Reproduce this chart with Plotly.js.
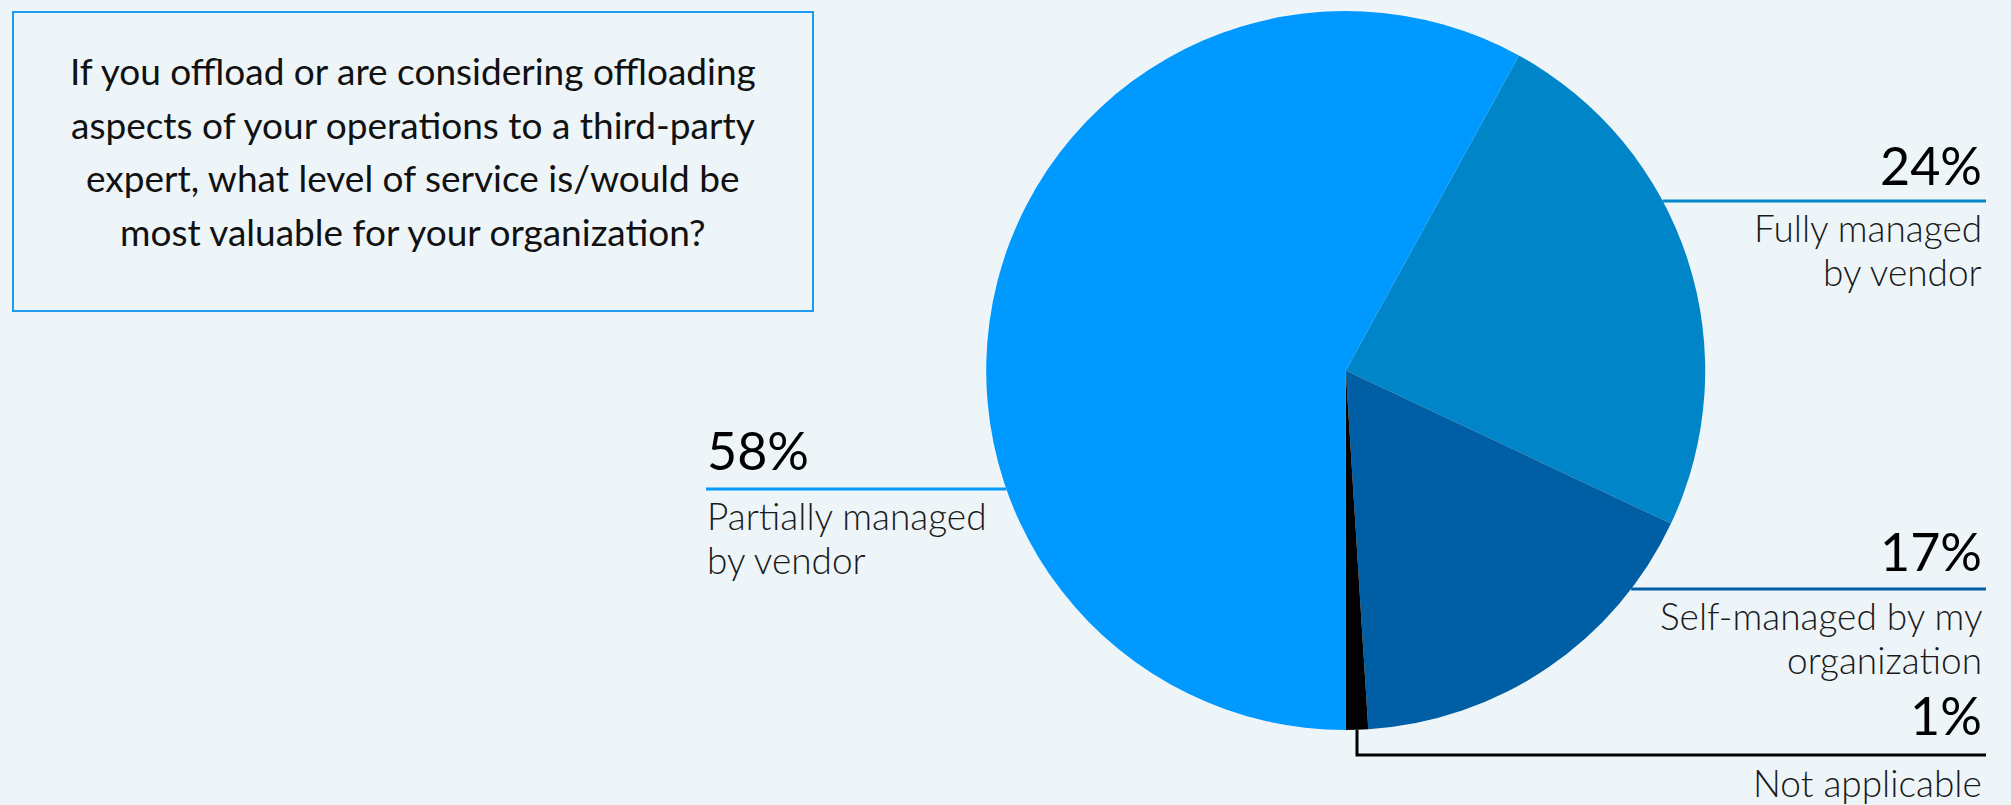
<!DOCTYPE html>
<html>
<head>
<meta charset="utf-8">
<script src="https://cdn.plot.ly/plotly-3.0.1.min.js"></script>
<style>
  html, body { margin: 0; padding: 0; background: #EEF5F9; }
  #chart { width: 2011px; height: 805px; }
</style>
</head>
<body>
<div id="chart"></div>
<script>
// ---- Data ----
const categories = ["Fully managed by vendor", "Self-managed by my organization", "Not applicable", "Partially managed by vendor"];
const values = [24, 17, 1, 58];
const percentLabels = ["24%", "17%", "1%", "58%"];
const descLabels = [["Fully managed", "by vendor"], ["Self-managed by my", "organization"], ["Not applicable"], ["Partially managed", "by vendor"]];
const colors = ["#0085C9", "#005EA4", "#000000", "#0099FF"];
const questionLines = [
  "If you offload or are considering offloading",
  "aspects of your operations to a third-party",
  "expert, what level of service is/would be",
  "most valuable for your organization?"
];

// ---- Layout geometry ----
const W = 2011, H = 805;
const pieTop = 11, pieBottom = 730;
const pieCx = 1345.7;
const R = (pieBottom - pieTop) / 2;
const pieCy = pieTop + R;
const domW = 0.4;
const px = x => x / W;
const py = y => 1 - y / H;

const total = values.reduce((a, b) => a + b, 0);
const startAngle = 180 - 360 * (values[0] + values[1] + values[2]) / total;

const trace = {
  type: 'pie',
  labels: categories,
  values: values,
  sort: false,
  direction: 'clockwise',
  rotation: startAngle,
  marker: { colors: colors, line: { width: 0 } },
  textinfo: 'none',
  hoverinfo: 'none',
  showlegend: false,
  domain: {
    x: [pieCx / W - domW / 2, pieCx / W + domW / 2],
    y: [1 - pieBottom / H, 1 - pieTop / H]
  }
};

const fontFam = 'Lato, "Open Sans", sans-serif';
const annotations = [];
const shapes = [];

// Question box
shapes.push({
  type: 'rect', xref: 'paper', yref: 'paper',
  x0: px(13), x1: px(813), y0: py(12), y1: py(311),
  line: { color: '#1E9BF0', width: 2 }, fillcolor: 'rgba(0,0,0,0)'
});
const qBaselines = [85, 138.5, 192, 245.5];
const qSize = 37;
questionLines.forEach((t, i) => {
  annotations.push({
    xref: 'paper', yref: 'paper', x: px(413), y: py(qBaselines[i] - 0.387 * qSize),
    xanchor: 'center', yanchor: 'middle', showarrow: false, text: t,
    font: { family: fontFam, size: qSize, color: '#111111', weight: 400 }
  });
});

function circleX(y, side) {
  const dy = y - pieCy;
  return pieCx + side * Math.sqrt(R * R - dy * dy);
}

const pctSize = 52, descSize = 37, descGap = 44;
const labelLayout = [
  { pctBase: 185, lineY: 201, descBase: 241.7, side: 1 },
  { pctBase: 571, lineY: 589, descBase: 630, side: 1 },
  { pctBase: 735, lineY: 755, descBase: 797, side: 1 },
  { pctBase: 470, lineY: 489, descBase: 530, side: -1 }
];
const rightEdge = 1984, leftEdge = 705, lineRight = 1986, lineLeft = 706;

labelLayout.forEach((L, i) => {
  const isRight = L.side === 1;
  const xa = isRight ? 'right' : 'left';
  const xx = isRight ? rightEdge : leftEdge;
  annotations.push({
    xref: 'paper', yref: 'paper', x: px(xx), y: py(L.pctBase - 0.387 * pctSize),
    xanchor: xa, yanchor: 'middle', showarrow: false, text: percentLabels[i],
    font: { family: fontFam, size: pctSize, color: '#000000' }
  });
  descLabels[i].forEach((t, k) => {
    annotations.push({
      xref: 'paper', yref: 'paper', x: px(xx), y: py(L.descBase + k * descGap - 0.387 * descSize),
      xanchor: xa, yanchor: 'middle', showarrow: false, text: t,
      font: { family: fontFam, size: descSize, color: '#1a1a1a', weight: 300 }
    });
  });
  const lc = i === 2 ? '#000000' : colors[i];
  if (i === 2) {
    const midAng = (startAngle + 360 * (values[0] + values[1] + values[2] / 2) / total) * Math.PI / 180;
    const sx = pieCx + R * Math.sin(midAng);
    const sy = pieCy - R * Math.cos(midAng);
    shapes.push({
      type: 'path', xref: 'paper', yref: 'paper',
      path: `M ${px(sx)} ${py(sy)} L ${px(sx)} ${py(L.lineY)} L ${px(lineRight)} ${py(L.lineY)}`,
      line: { color: lc, width: 3 }
    });
  } else {
    const cx = circleX(L.lineY, L.side);
    shapes.push({
      type: 'line', xref: 'paper', yref: 'paper',
      x0: px(isRight ? cx : lineLeft), x1: px(isRight ? lineRight : cx),
      y0: py(L.lineY), y1: py(L.lineY),
      line: { color: lc, width: 3 }
    });
  }
});

const layout = {
  width: W, height: H,
  margin: { l: 0, r: 0, t: 0, b: 0, pad: 0 },
  paper_bgcolor: '#EEF5F9',
  plot_bgcolor: '#EEF5F9',
  showlegend: false,
  annotations: annotations,
  shapes: shapes
};

Plotly.newPlot('chart', [trace], layout, { displayModeBar: false, staticPlot: true });
</script>
</body>
</html>
